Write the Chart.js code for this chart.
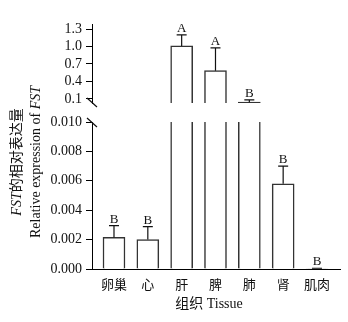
<!DOCTYPE html>
<html>
<head>
<meta charset="utf-8">
<script src="https://cdn.jsdelivr.net/npm/chart.js@4"></script>
<style>
  body { margin: 0; background: #fff; }
  #wrap { width: 348px; height: 322px; }
</style>
</head>
<body>
<div id="wrap"><canvas id="fstChart" width="348" height="322"></canvas></div>
<script>
const tissues = ['卵巢', '心', '肝', '脾', '肺', '肾', '肌肉'];
const expression = [0.00215, 0.0020, 1.01, 0.585, 0.045, 0.0058, 0.00003];
const errors = [0.0008, 0.00088, 0.19, 0.39, 0.04, 0.0012, 0.00002];
const letters = ['B', 'B', 'A', 'A', 'B', 'B', 'B'];
const topTicks = [0.1, 0.4, 0.7, 1.0, 1.3];
const bottomTicks = [0, 0.002, 0.004, 0.006, 0.008, 0.010];

const TOP_MIN = 0.031, TOP_MAX = 1.386;
const BOT_MIN = 0, BOT_MAX = 0.010;
const serif = '"Liberation Serif", "Noto Sans CJK SC", serif';

// bars that reach into each panel
const topData = expression.map((v, i) => v > TOP_MIN ? {x: i, y: v} : {x: i, y: null});
const bottomData = expression.map((v, i) => ({x: i, y: Math.min(v, BOT_MAX)}));

function yAxis(min, max, tickValues, digits, weight, stackWeight) {
    return {
        type: 'linear',
        position: 'left',
        stack: 'y',
        stackWeight: stackWeight,
        weight: weight,
        min: min,
        max: max,
        afterBuildTicks: s => { s.ticks = tickValues.map(v => ({value: v})); },
        afterFit: s => { s.width = 92; },
        border: {display: true, color: '#000', width: 1},
        grid: {drawOnChartArea: false, drawTicks: true, tickLength: 6, color: '#000'},
        ticks: {
            color: '#111',
            padding: 4,
            autoSkip: false,
            font: {family: serif, size: 14},
            callback: v => v.toFixed(digits)
        }
    };
}

const errorBars = {
    id: 'errorBars',
    afterDatasetsDraw(chart) {
        const ctx = chart.ctx;
        const panels = [
            {meta: chart.getDatasetMeta(0), scale: chart.scales.yTop, ok: v => v > TOP_MIN},
            {meta: chart.getDatasetMeta(1), scale: chart.scales.yBot, ok: v => v <= BOT_MAX}
        ];
        ctx.save();
        ctx.strokeStyle = '#111';
        ctx.lineWidth = 1.2;
        ctx.fillStyle = '#111';
        ctx.font = '13px ' + serif;
        ctx.textAlign = 'center';
        ctx.textBaseline = 'alphabetic';
        panels.forEach(p => {
            expression.forEach((v, i) => {
                if (!p.ok(v)) return;
                const x = p.meta.data[i].x;
                const y0 = p.scale.getPixelForValue(v);
                const y1 = p.scale.getPixelForValue(v + errors[i]);
                ctx.beginPath();
                ctx.moveTo(x, y0);
                ctx.lineTo(x, y1);
                ctx.moveTo(x - 5, y1);
                ctx.lineTo(x + 5, y1);
                ctx.stroke();
                ctx.fillText(letters[i], x, y1 - 3);
            });
        });
        ctx.restore();
    }
};

function drawMixed(ctx, parts, cx, cy) {
    let total = 0;
    parts.forEach(p => {
        ctx.font = (p.italic ? 'italic ' : '') + '14px ' + serif;
        p.w = ctx.measureText(p.t).width;
        total += p.w;
    });
    let x = cx - total / 2;
    parts.forEach(p => {
        ctx.font = (p.italic ? 'italic ' : '') + '14px ' + serif;
        ctx.fillText(p.t, x, cy);
        x += p.w;
    });
}

const decorations = {
    id: 'decorations',
    afterDraw(chart) {
        const ctx = chart.ctx;
        const x = chart.chartArea.left;
        const yTopEnd = chart.scales.yTop.bottom;
        const yBotStart = chart.scales.yBot.top;
        ctx.save();
        ctx.strokeStyle = '#111';
        ctx.lineWidth = 1.2;
        ctx.beginPath();
        ctx.moveTo(x - 5, yTopEnd - 5);
        ctx.lineTo(x + 5, yTopEnd + 4);
        ctx.moveTo(x - 5, yBotStart - 4);
        ctx.lineTo(x + 5, yBotStart + 5);
        ctx.stroke();

        // axis titles
        ctx.fillStyle = '#111';
        ctx.textAlign = 'left';
        ctx.textBaseline = 'middle';
        ctx.save();
        ctx.translate(0, 162);
        ctx.rotate(-Math.PI / 2);
        drawMixed(ctx, [{t: 'FST', italic: true}, {t: '的相对表达量'}], 0, 17);
        drawMixed(ctx, [{t: 'Relative expression of '}, {t: 'FST', italic: true}], 0, 36);
        ctx.restore();
        drawMixed(ctx, [{t: '组织 Tissue'}], 209, 304);
        ctx.restore();
    }
};

const barStyle = {
    backgroundColor: '#fff',
    borderColor: '#333',
    barThickness: 22,
    grouped: false,
    borderSkipped: false
};

new Chart(document.getElementById('fstChart'), {
    type: 'bar',
    data: {
        datasets: [
            Object.assign({
                label: 'top',
                data: topData,
                yAxisID: 'yTop',
                borderWidth: {left: 1.5, right: 1.5, top: 1.5, bottom: 0}
            }, barStyle),
            Object.assign({
                label: 'bottom',
                data: bottomData,
                yAxisID: 'yBot',
                // bars cut off by the axis break stay open at the top
                borderWidth: c => ({left: 1.5, right: 1.5, top: expression[c.dataIndex] > BOT_MAX ? 0 : 1.5, bottom: 0})
            }, barStyle)
        ]
    },
    options: {
        responsive: false,
        animation: false,
        layout: {padding: {left: 0, right: 8, top: 24, bottom: 0}},
        plugins: {legend: {display: false}, tooltip: {enabled: false}},
        scales: {
            x: {
                type: 'linear',
                offset: false,
                min: -0.65,
                max: 6.68,
                afterBuildTicks: s => { s.ticks = tissues.map((_, i) => ({value: i})); },
                afterFit: s => { s.height = 53; },
                border: {display: true, color: '#000', width: 1},
                grid: {display: false, drawTicks: false, offset: false},
                ticks: {
                    color: '#111',
                    padding: 9,
                    autoSkip: false,
                    maxRotation: 0,
                    font: {family: serif, size: 13},
                    callback: v => tissues[v]
                }
            },
            yTop: yAxis(TOP_MIN, TOP_MAX, topTicks, 1, 3, 79),
            yGap: {type: 'linear', display: false, position: 'left', stack: 'y', stackWeight: 19, weight: 2},
            yBot: yAxis(BOT_MIN, BOT_MAX, bottomTicks, 3, 1, 147)
        }
    },
    plugins: [errorBars, decorations]
});
</script>
</body>
</html>
